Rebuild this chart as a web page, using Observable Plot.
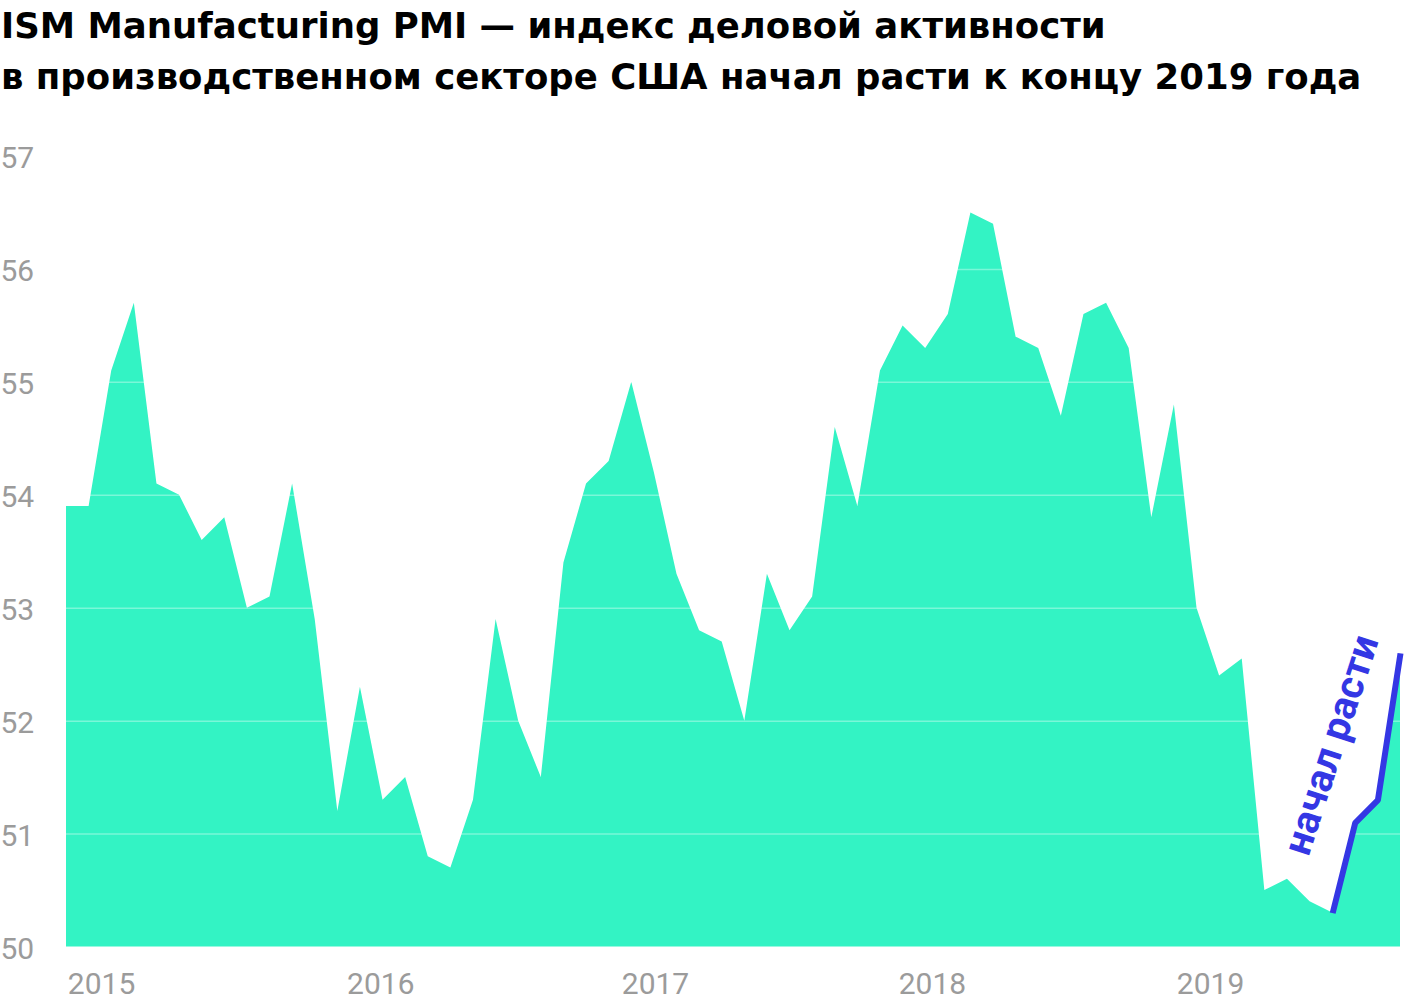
<!DOCTYPE html>
<html><head><meta charset="utf-8">
<script src="https://cdn.jsdelivr.net/npm/d3@7"></script>
<script src="https://cdn.jsdelivr.net/npm/@observablehq/plot@0.6"></script>
<style>
body{margin:0;background:#fff;width:1404px;height:1006px;overflow:hidden;font-family:Roboto, sans-serif}
#title{height:120px;box-sizing:border-box;padding-left:1px;font-family:"DejaVu Sans",sans-serif;font-weight:700;font-size:35.5px;line-height:51px;color:#000;white-space:nowrap}
#chart svg{display:block}
</style></head><body>
<div id="title">ISM Manufacturing PMI — индекс деловой активности<br>в производственном секторе США начал расти к концу 2019 года</div>
<div id="chart"></div>
<script>
// Monthly PMI values, Jan 2015 – Dec 2019
const pmi2015 = [53.9, 53.9, 55.1, 55.7, 54.1, 54.0, 53.6, 53.8, 53.0, 53.1, 54.1, 52.9];
const pmi2016 = [51.2, 52.3, 51.3, 51.5, 50.8, 50.7, 51.3, 52.9, 52.0, 51.5, 53.4, 54.1];
const pmi2017 = [54.3, 55.0, 54.2, 53.3, 52.8, 52.7, 52.0, 53.3, 52.8, 53.1, 54.6, 53.9];
const pmi2018 = [55.1, 55.5, 55.3, 55.6, 56.5, 56.4, 55.4, 55.3, 54.7, 55.6, 55.7, 55.3];
const pmi2019 = [53.8, 54.8, 53.0, 52.4, 52.55, 50.5, 50.6, 50.4, 50.3, 51.1, 51.3, 52.6];
const yearLabels = ["2015", "2016", "2017", "2018", "2019"];
const yearTickAt = [1.55, 13.9, 26.05, 38.3, 50.6];   // month index where year label sits
const yTicks = [50, 51, 52, 53, 54, 55, 56, 57];
const riseFrom = 56;                                  // month index where growth starts
const annotationText = "начал расти";
const annotationAt = {m: 55.95, v: 51.79};

const values = [...pmi2015, ...pmi2016, ...pmi2017, ...pmi2018, ...pmi2019];
const data = values.map((v, m) => ({m, v}));
const green = "#33f3c4";
const blue = "#3437e4";

const chart = Plot.plot({
  width: 1404, height: 886,
  marginLeft: 66, marginRight: 4, marginTop: 36, marginBottom: 59.5,
  x: {type: "linear", domain: [0, values.length - 1]},
  y: {domain: [50, 57]},
  style: {fontFamily: "Roboto, sans-serif", background: "white", overflow: "visible"},
  marks: [
    Plot.areaY(data, {x: "m", y1: 50, y2: "v", fill: green}),
    Plot.ruleY(yTicks.slice(1), {stroke: "white", strokeOpacity: 0.35, strokeWidth: 1.5}),
    Plot.line(data.filter(d => d.m >= riseFrom), {x: "m", y: "v", stroke: blue, strokeWidth: 6, strokeLinejoin: "miter", strokeLinecap: "butt"}),
    Plot.text([annotationAt], {x: "m", y: "v", text: () => annotationText, rotate: -72, fontSize: 40, fontWeight: 700, fill: blue, textAnchor: "middle", lineAnchor: "middle"}),
    Plot.axisY(yTicks, {tickSize: 0, tickPadding: 0, textAnchor: "start", dx: -66, dy: 2, fontSize: 30, fill: "#9b9b9b", label: null, tickFormat: d => String(d)}),
    Plot.axisX(yearTickAt, {tickSize: 0, tickPadding: 26, tickFormat: d => yearLabels[yearTickAt.indexOf(d)], fontSize: 30, fill: "#9b9b9b", label: null})
  ]
});
document.getElementById("chart").appendChild(chart);
</script></body></html>
